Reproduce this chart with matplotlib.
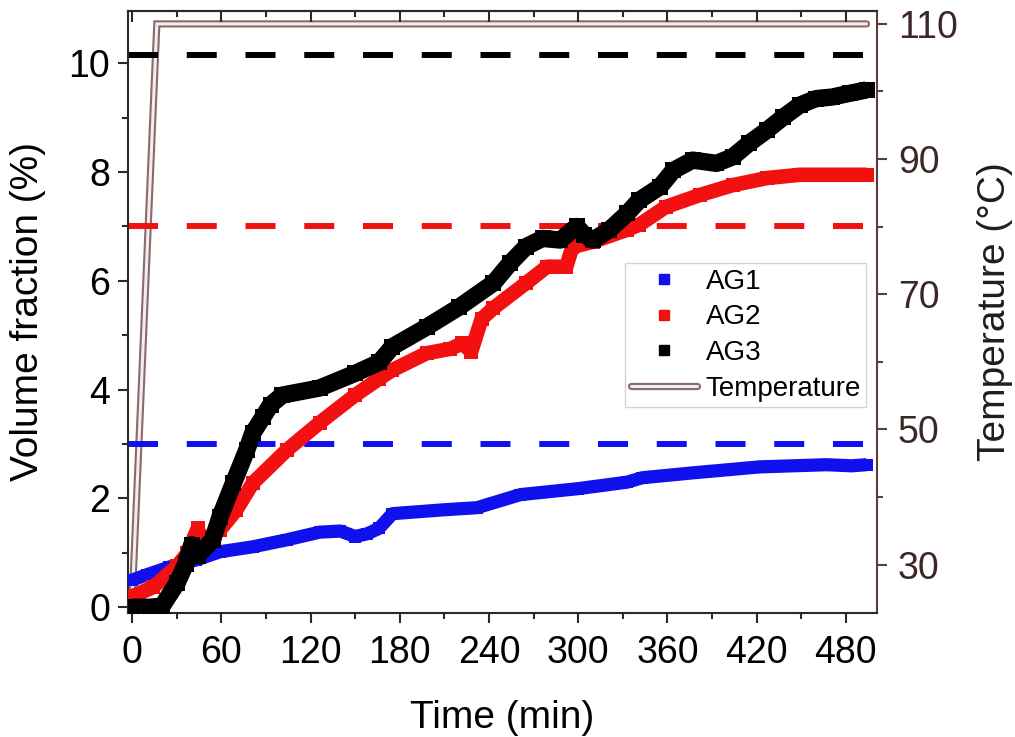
import matplotlib
matplotlib.use('Agg')
import matplotlib.pyplot as plt
import matplotlib.patheffects as pe
from matplotlib.lines import Line2D
from matplotlib.ticker import MultipleLocator

plt.rcParams['font.family'] = ['Liberation Sans', 'DejaVu Sans']
plt.rcParams['lines.scale_dashes'] = False

# volume fraction (%) vs time (min) for the three samples
ag1_t = [0, 10, 25, 43, 59, 81, 104, 126, 140, 150, 158, 166, 175, 209, 232,
         261, 300, 333, 343, 377, 422, 467, 484, 494]
ag1_v = [0.5, 0.6, 0.74, 0.87, 1.02, 1.11, 1.24, 1.38, 1.40, 1.30, 1.35, 1.45,
         1.72, 1.79, 1.83, 2.07, 2.18, 2.30, 2.38, 2.47, 2.58, 2.62, 2.6, 2.62]

ag2_t = [0, 14, 30, 37, 44, 47, 52, 59, 70, 81, 104, 126, 150, 166, 175, 198,
         214, 222, 228, 235, 243, 265, 279, 292, 296, 310, 333, 341, 359, 382,
         404, 427, 449, 471, 494]
ag2_v = [0.2, 0.37, 0.75, 0.99, 1.45, 1.2, 1.3, 1.42, 1.79, 2.28, 2.89, 3.39,
         3.9, 4.2, 4.36, 4.67, 4.75, 4.85, 4.7, 5.3, 5.5, 5.96, 6.26, 6.26,
         6.62, 6.72, 6.94, 7.03, 7.36, 7.58, 7.76, 7.89, 7.95, 7.95, 7.95]

ag3_t = [0, 12, 20, 30, 36, 40, 44, 54, 59, 68, 77, 81, 88, 93, 101, 126, 150,
         166, 175, 198, 220, 243, 254, 265, 276, 288, 299, 304, 310, 321, 333,
         341, 355, 364, 377, 393, 404, 415, 427, 438, 449, 460, 471, 483, 494]
ag3_v = [0.0, 0.0, 0.02, 0.44, 0.8, 1.15, 0.95, 1.24, 1.66, 2.28, 2.89, 3.2,
         3.5, 3.72, 3.9, 4.03, 4.3, 4.5, 4.79, 5.15, 5.52, 5.96, 6.32, 6.63,
         6.78, 6.75, 7.0, 6.85, 6.75, 6.94, 7.24, 7.48, 7.73, 8.03, 8.22, 8.16,
         8.28, 8.53, 8.77, 9.01, 9.23, 9.35, 9.38, 9.45, 9.51]

# furnace temperature program
temp_t = [0, 16.5, 494]
temp_c = [25, 110, 110]

# target fractions
target_levels = [3.0, 7.0, 10.15]

labels = ['AG1', 'AG2', 'AG3']
colors = ['#1010ee', '#f21010', '#000000']
widths = [9.5, 10.5, 12.5]

fig = plt.figure(figsize=(10.15, 7.37), dpi=100)
ax = fig.add_axes([0.1261, 0.1687, 0.7379, 0.8163])
ax2 = ax.twinx()
ax.set_zorder(2)
ax.patch.set_visible(False)
ax2.set_zorder(1)

ax2.plot(temp_t, temp_c, color='#f3eded', lw=2.2, solid_joinstyle='miter',
         solid_capstyle='round',
         path_effects=[pe.Stroke(linewidth=5.2, foreground='#8a6a6a'), pe.Normal()],
         label='Temperature')
temp_line = ax2.lines[0]

for lvl, c in zip(target_levels, colors):
    ax.axhline(lvl, color=c, lw=4.3, dashes=(21.6, 20.7), zorder=1.5)

for t, v, c, w in zip([ag1_t, ag2_t, ag3_t], [ag1_v, ag2_v, ag3_v], colors, widths):
    ax.plot(t, v, color=c, lw=w, marker='s', ms=w * 0.95, mew=0,
            solid_joinstyle='round', solid_capstyle='butt', zorder=3)

ax.set_xlim(-2.9, 501)
ax.set_ylim(-0.1, 10.96)
ax2.set_ylim(22.9, 111.9)

ax.set_xticks(range(0, 481, 60))
ax.xaxis.set_minor_locator(MultipleLocator(30))
ax.set_yticks(range(0, 11, 2))
ax.yaxis.set_minor_locator(MultipleLocator(1))
ax.tick_params(which='major', direction='out', length=7, width=1.5,
               labelsize=27, color='#2a2a2a')
ax.tick_params(which='minor', direction='out', length=4, width=1.5, color='#2a2a2a')
ax.tick_params(axis='y', pad=6)
ax.tick_params(axis='x', pad=9)

sec = ax.secondary_xaxis('top')
sec.set_xticks(range(0, 481, 60))
sec.xaxis.set_minor_locator(MultipleLocator(30))
sec.tick_params(which='major', direction='in', length=8, width=1.5, labeltop=False, color='#2a2a2a')
sec.tick_params(which='minor', direction='in', length=4.5, width=1.5, color='#2a2a2a')
sec.spines['top'].set_color('#2a2a2a')
sec.spines['top'].set_linewidth(1.5)

ax2.set_yticks(range(30, 111, 20))
ax2.yaxis.set_minor_locator(MultipleLocator(10))
ax2.tick_params(which='major', direction='out', length=7, width=1.5, labelsize=27,
                color='#5e3c3c', labelcolor='#3d2626', pad=8)
ax2.tick_params(which='minor', direction='out', length=4, width=1.5, color='#5e3c3c')

for s in ['left', 'bottom', 'top']:
    ax.spines[s].set_color('#2a2a2a')
    ax.spines[s].set_linewidth(1.5)
    ax2.spines[s].set_visible(False)
ax.spines['right'].set_visible(False)
ax2.spines['right'].set_color('#5e3c3c')
ax2.spines['right'].set_linewidth(1.5)

ax.set_xlabel('Time (min)', fontsize=28, labelpad=21)
ax.set_ylabel('Volume fraction (%)', fontsize=28, labelpad=16)
ax2.set_ylabel('Temperature (\u00b0C)', fontsize=28, color='#1e1e1e', labelpad=14)

handles = [Line2D([], [], ls='none', marker='s', ms=6.5, color=c, label=l)
           for c, l in zip(colors, labels)]
handles.append(temp_line)
leg = ax.legend(handles=handles, loc='upper left', bbox_to_anchor=(0.6636, 0.581),
                borderaxespad=0, frameon=True, fancybox=False, edgecolor='#c8c8c8',
                fontsize=20, handlelength=2.4, handletextpad=0.3, labelspacing=0.35,
                borderpad=0.2)
leg.get_frame().set_linewidth(1.0)

fig.savefig('out.png', dpi=100)
